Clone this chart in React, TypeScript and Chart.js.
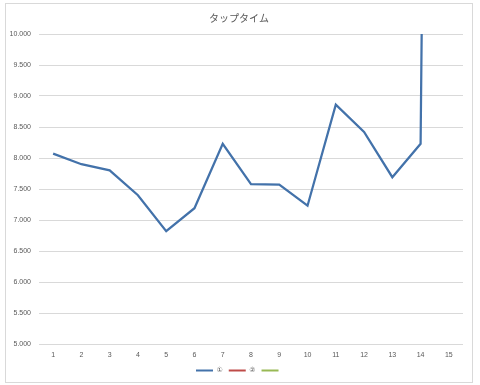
import React, { useEffect, useRef } from "react";
import { Chart, registerables } from "chart.js";

Chart.register(...registerables);

const categories = ["1", "2", "3", "4", "5", "6", "7", "8", "9", "10", "11", "12", "13", "14", "15"];
const series1 = [8.07, 7.9, 7.8, 7.4, 6.82, 7.19, 8.23, 7.58, 7.57, 7.23, 8.86, 8.42, 7.69, 8.23, 55];
const series2: number[] = [];
const series3: number[] = [];
const seriesLabels = ["①", "②", ""];
const seriesColors = ["#4372aa", "#be4b48", "#98b954"];
const titleText = "タップタイム";
const yMin = 5;
const yMax = 10;
const yStep = 0.5;

export default function App() {
  const ref = useRef<HTMLCanvasElement | null>(null);
  useEffect(() => {
    if (!ref.current) return;
    const tickFont = { family: "'Liberation Sans', sans-serif", size: 7 };
    const chart = new Chart(ref.current, {
      type: "line",
      data: {
        labels: categories,
        datasets: [series1, series2, series3].map((d, i) => ({
          label: seriesLabels[i],
          data: d,
          borderColor: seriesColors[i],
          backgroundColor: seriesColors[i],
          borderWidth: 2.25,
          pointRadius: 0,
          tension: 0,
        })),
      },
      options: {
        animation: false,
        responsive: false,
        maintainAspectRatio: false,
        layout: { padding: { left: 0, right: 2, top: 0, bottom: 1 } },
        plugins: {
          title: {
            display: true,
            text: titleText,
            color: "#595959",
            font: { family: "'Noto Sans CJK JP', sans-serif", size: 10, weight: "normal" },
            padding: { top: 12, bottom: 10 },
          },
          legend: {
            position: "bottom",
            labels: {
              boxWidth: 17,
              boxHeight: 2,
              padding: 6,
              color: "#595959",
              font: { family: "'DejaVu Sans', sans-serif", size: 7 },
              generateLabels: (c: any) =>
                c.data.datasets.map((ds: any, i: number) => ({
                  text: ds.label,
                  fillStyle: ds.borderColor,
                  strokeStyle: ds.borderColor,
                  lineWidth: 0,
                  hidden: false,
                  datasetIndex: i,
                  fontColor: "#595959",
                })),
            },
          },
          tooltip: { enabled: false },
        },
        scales: {
          x: {
            type: "category",
            offset: true,
            grid: { display: false, drawTicks: false },
            border: { display: false },
            ticks: { color: "#595959", font: tickFont, padding: 7, maxRotation: 0, autoSkip: false },
            afterFit: (s: any) => {
              s.height = 17;
            },
          },
          y: {
            min: yMin,
            max: yMax,
            grid: { color: "#d9d9d9", lineWidth: 1, drawTicks: false },
            border: { display: false },
            ticks: {
              stepSize: yStep,
              color: "#595959",
              font: tickFont,
              padding: 8,
              callback: (v: any) => Number(v).toFixed(3),
            },
            afterFit: (s: any) => {
              s.width = 39;
            },
          },
          y2: {
            display: true,
            position: "right",
            min: yMin,
            max: yMax,
            grid: { display: false, drawTicks: false },
            border: { display: false },
            ticks: { display: false },
            afterFit: (s: any) => {
              s.width = 15;
            },
          },
        },
      },
    });
    return () => chart.destroy();
  }, []);
  return (
    <div style={{ position: "fixed", left: 0, top: 0, width: 480, height: 385, background: "#fff" }}>
      <div
        style={{
          position: "absolute",
          left: 5,
          top: 3,
          width: 466,
          height: 378,
          border: "1px solid #d9d9d9",
        }}
      />
      <canvas ref={ref} width={480} height={385} style={{ position: "absolute", left: 0, top: 0 }} />
    </div>
  );
}
